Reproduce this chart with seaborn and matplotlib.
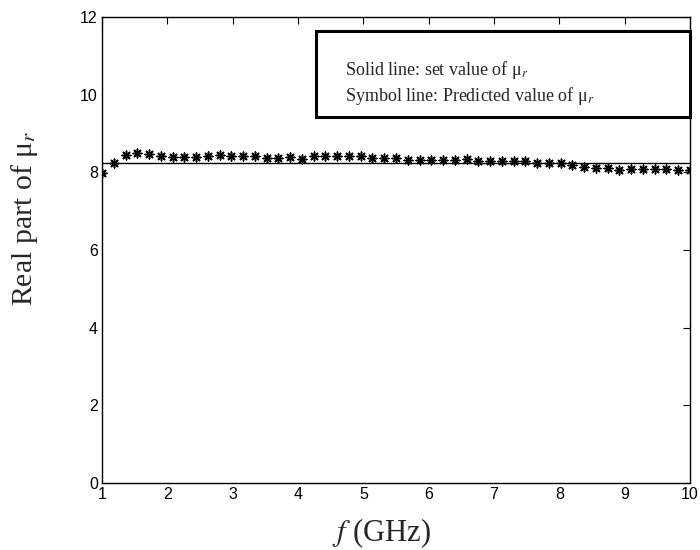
import numpy as np
import pandas as pd
import matplotlib
matplotlib.use("Agg")
import matplotlib.pyplot as plt
import seaborn as sns
from matplotlib.patches import Rectangle

# ---- data ----
freq_ghz = np.round(np.linspace(1.0, 10.0, 51), 2)
set_value = [8.25] * len(freq_ghz)
predicted = [7.98, 8.25, 8.45, 8.49, 8.47, 8.43, 8.40, 8.40, 8.40, 8.41,
             8.45, 8.41, 8.43, 8.43, 8.37, 8.37, 8.39, 8.35, 8.43, 8.43,
             8.41, 8.43, 8.41, 8.37, 8.37, 8.37, 8.31, 8.31, 8.33, 8.31,
             8.33, 8.34, 8.29, 8.29, 8.29, 8.29, 8.29, 8.25, 8.25, 8.24,
             8.20, 8.15, 8.11, 8.11, 8.05, 8.09, 8.09, 8.09, 8.09, 8.05,
             8.05]
x_ticks = [1, 2, 3, 4, 5, 6, 7, 8, 9, 10]
y_ticks = [0, 2, 4, 6, 8, 10, 12]
legend_lines = ["Solid line: set value of μ$_r$",
                "Symbol line: Predicted value of μ$_r$"]

df = pd.DataFrame({"f": freq_ghz, "set": set_value, "pred": predicted})

sns.set_style("white")
plt.rcParams["font.family"] = ["Liberation Sans", "DejaVu Sans"]
plt.rcParams["mathtext.fontset"] = "stix"

fig = plt.figure(figsize=(7, 5.5), dpi=100)
ax = fig.add_axes([102 / 700, 1 - 483 / 550, 588 / 700, 466 / 550])

sns.lineplot(data=df, x="f", y="set", ax=ax, color="black", linewidth=1.0)
sns.scatterplot(data=df, x="f", y="pred", ax=ax, marker=(8, 2, 0),
                s=40, color="black", edgecolor="black", linewidth=1.1, zorder=3)

ax.set_xlim(1, 10)
ax.set_ylim(0, 12)
ax.set_xticks(x_ticks)
ax.set_yticks(y_ticks)
ax.set_xticklabels([str(t) for t in x_ticks])
ax.set_yticklabels([str(t) for t in y_ticks])
ax.tick_params(direction="in", length=5, width=0.8, top=True, right=True,
               labelsize=11.5, colors="black", pad=3)
for sp in ax.spines.values():
    sp.set_visible(True)
    sp.set_color("black")
    sp.set_linewidth(1.0)

ax.set_xlabel("$f$ (GHz)", family=["Liberation Serif", "DejaVu Serif"],
              fontsize=22)
ax.xaxis.set_label_coords(0.476, -0.072)
ax.set_ylabel("Real part of μ$_r$", family=["Liberation Serif", "DejaVu Serif"],
              fontsize=21.5)
ax.yaxis.set_label_coords(-0.106, 0.569)

rect = Rectangle((0.364, 0.786), 0.636, 0.185, transform=ax.transAxes,
                 fill=True, facecolor="white", edgecolor="black",
                 linewidth=2.2, clip_on=False, zorder=5)
ax.add_patch(rect)
ax.text(0.413, 0.886, legend_lines[0], transform=ax.transAxes,
        family=["Liberation Serif", "DejaVu Serif"], fontsize=13,
        va="center", ha="left", zorder=6)
ax.text(0.413, 0.830, legend_lines[1], transform=ax.transAxes,
        family=["Liberation Serif", "DejaVu Serif"], fontsize=13,
        va="center", ha="left", zorder=6)

fig.savefig("out.png", dpi=100)
